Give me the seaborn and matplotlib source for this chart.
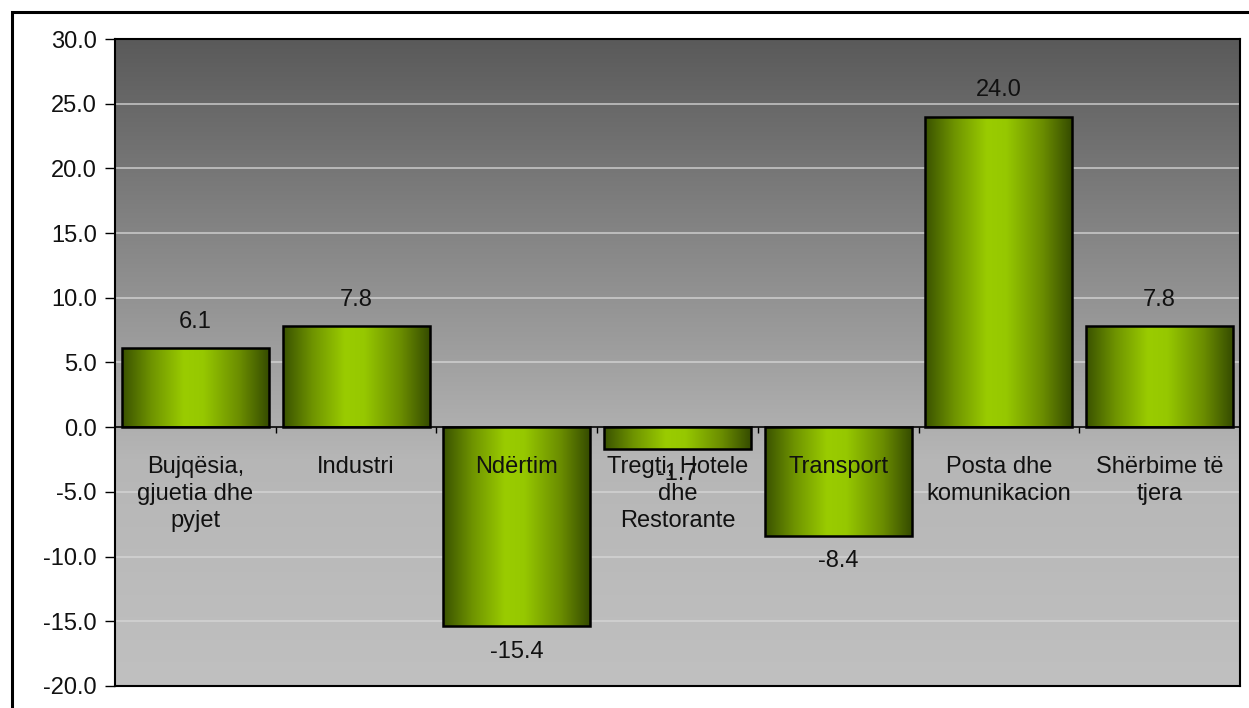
import numpy as np
import pandas as pd
import matplotlib.pyplot as plt
import seaborn as sns
from matplotlib.colors import LinearSegmentedColormap
from matplotlib.patches import Rectangle

# data
sectors = ["Bujqësia,\ngjuetia dhe\npyjet", "Industri", "Ndërtim",
           "Tregti, Hotele\ndhe\nRestorante", "Transport",
           "Posta dhe\nkomunikacion", "Shërbime të\ntjera"]
growth = [6.1, 7.8, -15.4, -1.7, -8.4, 24.0, 7.8]
value_labels = ["6.1", "7.8", "-15.4", "-1.7", "-8.4", "24.0", "7.8"]
yticks = [30, 25, 20, 15, 10, 5, 0, -5, -10, -15, -20]

df = pd.DataFrame({"sector": sectors, "growth": growth})

sns.set_theme(style="white")
plt.rcParams["font.family"] = ["Liberation Sans", "DejaVu Sans"]
FS = 17

fig = plt.figure(figsize=(12.49, 7.08), dpi=100)
ax = fig.add_axes([0.0921, 0.0311, 0.9007, 0.9138])

sns.barplot(data=df, x="sector", y="growth", ax=ax, width=0.915,
            color="#99cc00", edgecolor="black", linewidth=1.8, zorder=3)
ax.set_xlim(-0.5, len(sectors) - 0.5)
ax.set_ylim(-20, 30)

# background gradient (dark top -> light bottom)
bg_cmap = LinearSegmentedColormap.from_list(
    "bg", [(0.0, "#c0c0c0"), (0.35, "#b6b6b6"), (1.0, "#5a5a5a")])
grad = np.linspace(0, 1, 256).reshape(-1, 1)
ax.imshow(grad, cmap=bg_cmap, aspect="auto", origin="lower",
          extent=(-0.5, len(sectors) - 0.5, -20, 30), zorder=0)

# horizontal green gradient on each bar
bar_cmap = LinearSegmentedColormap.from_list(
    "bar", [(0.0, "#3a5200"), (0.2, "#6f9400"), (0.42, "#9acc00"),
            (0.55, "#96c800"), (0.8, "#6a8c00"), (1.0, "#344a00")])
hgrad = np.linspace(0, 1, 256).reshape(1, -1)
for p in ax.patches:
    x0, y0 = p.get_x(), p.get_y()
    w, h = p.get_width(), p.get_height()
    im = ax.imshow(hgrad, cmap=bar_cmap, aspect="auto",
                   extent=(x0, x0 + w, min(y0, y0 + h), max(y0, y0 + h)),
                   zorder=3)
    im.set_clip_path(p)
    p.set_facecolor("none")
    p.set_zorder(4)

ax.set_xlim(-0.5, len(sectors) - 0.5)
ax.set_ylim(-20, 30)

# gridlines
for v in yticks[1:]:
    ax.axhline(v, color="#d8d8d8", lw=1.2, alpha=0.8, zorder=1)
ax.axhline(0, color="black", lw=1.2, zorder=5)
ax.vlines([i + 0.5 for i in range(len(sectors) - 1)], -0.45, 0,
          color="black", lw=1, zorder=5)

# value labels
for i, v in enumerate(growth):
    if v >= 0:
        ax.text(i, v + 1.2, value_labels[i], ha="center", va="bottom",
                fontsize=FS, color="#111111", zorder=6)
    else:
        ax.text(i, v - 1.1, value_labels[i], ha="center", va="top",
                fontsize=FS, color="#111111", zorder=6)

# category labels inside plot below zero line
for i, s in enumerate(sectors):
    ax.text(i, -2.2, s, ha="center", va="top", fontsize=FS,
            color="#111111", linespacing=1.3, zorder=6)

ax.set_xticks([])
ax.set_yticks(yticks)
ax.set_yticklabels([f"{t:.1f}" for t in yticks], fontsize=FS,
                   color="#111111")
ax.tick_params(axis="y", direction="out", length=7, width=1,
               color="black", left=True, pad=6)
ax.set_xlabel("")
ax.set_ylabel("")
for sp in ax.spines.values():
    sp.set_color("black")
    sp.set_linewidth(1.5)
    sp.set_visible(True)

# outer frame
fig.patches.append(Rectangle((12 / 1249, -0.05), 1.2, 1 - 12 / 708 + 0.05,
                             transform=fig.transFigure, fill=False,
                             edgecolor="black", lw=2.2))

fig.savefig("out.png", dpi=100)
